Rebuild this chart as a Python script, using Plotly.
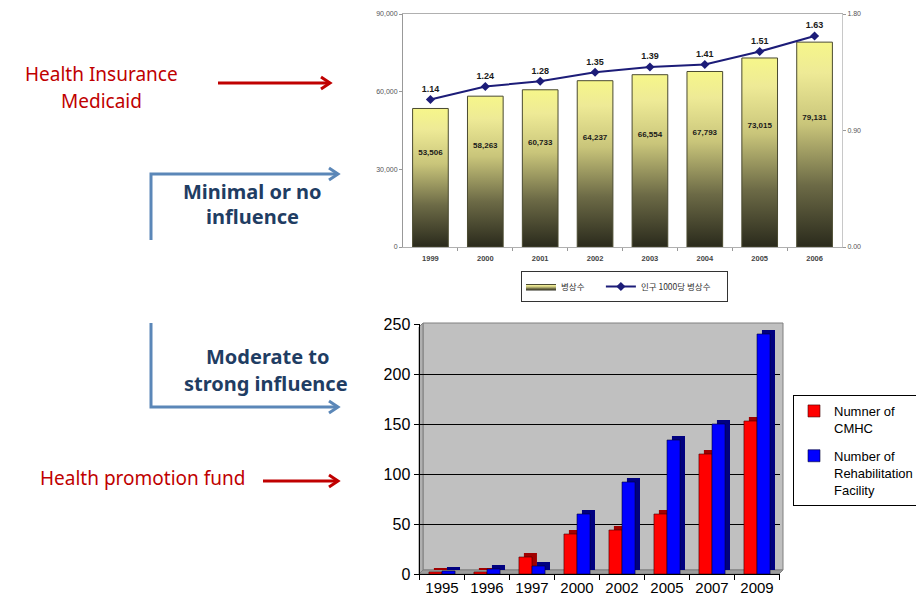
import plotly.graph_objects as go

# ---------------- data ----------------
years_top = ['1999', '2000', '2001', '2002', '2003', '2004', '2005', '2006']
beds = [53506, 58263, 60733, 64237, 66554, 67793, 73015, 79131]
beds_per_1000 = [1.14, 1.24, 1.28, 1.35, 1.39, 1.41, 1.51, 1.63]
bed_name = '병상수'
rate_name = '인구 1000당 병상수'

years_bottom = ['1995', '1996', '1997', '2000', '2002', '2005', '2007', '2009']
cmhc = [2, 2, 17, 40, 44, 60, 120, 153]
rehab = [3, 5, 8, 60, 92, 134, 150, 240]
cmhc_name = 'Numner of<br>CMHC'
rehab_name = 'Number of<br>Rehabilitation<br>Facility'

# The page body has an 8px margin, so the figure is sized to fit the
# 924x609 window and reference pixel positions are shifted accordingly.
OX, OY = 8, 8
W, H = 916, 593
def px(x):
    return (x - OX) / W
def py(y):
    return 1 - (y - OY) / H

ARIAL = 'Arial, Liberation Sans, sans-serif'
fig = go.Figure()

# ---------- top chart: gradient bars ----------
grad = [[0, '#2a2a1c'], [0.3, '#6c6a46'], [0.6, '#c9c57a'], [0.85, '#eeea96'], [1, '#f6f68a']]
hw = 0.325
for i, v in enumerate(beds):
    fig.add_trace(go.Scatter(
        x=[i - hw, i + hw, i + hw, i - hw, i - hw], y=[0, 0, v, v, 0],
        mode='lines', fill='toself',
        fillgradient=dict(type='vertical', colorscale=grad),
        line=dict(color='#4a4a30', width=1),
        name=bed_name + '\u00a0' * 6, legendgroup='beds', showlegend=(i == 0),
        legend='legend', hoverinfo='skip', xaxis='x', yaxis='y'))

fig.add_trace(go.Scatter(
    x=list(range(len(beds))), y=[v * 0.53 + 8000 for v in beds],
    mode='text', text=[f'{v:,}' for v in beds],
    textfont=dict(family=ARIAL, size=8, color='#1a1a1a', weight='bold'),
    showlegend=False, hoverinfo='skip', xaxis='x', yaxis='y'))

fig.add_trace(go.Scatter(
    x=list(range(len(beds_per_1000))), y=beds_per_1000,
    mode='lines+markers+text', text=[f'{v:.2f}' for v in beds_per_1000],
    textposition='top center',
    textfont=dict(family=ARIAL, size=9, color='#1a1a1a', weight='bold'),
    line=dict(color='#1c1c78', width=2),
    marker=dict(symbol='diamond', size=7, color='#1c1c78'),
    name=rate_name + '\u00a0' * 6, legend='legend', xaxis='x', yaxis='y3'))

# ---------- bottom chart: pseudo-3D bars ----------
bw = 0.29
dx = 0.11
dy = 4
fig.add_trace(go.Bar(x=years_bottom, y=cmhc, base=dy, offset=-bw + dx, width=bw,
                     marker=dict(color='#a00000', line=dict(width=0)),
                     showlegend=False, hoverinfo='skip', xaxis='x2', yaxis='y2'))
fig.add_trace(go.Bar(x=years_bottom, y=cmhc, offset=-bw, width=bw,
                     marker=dict(color='#ff0000', line=dict(color='#400000', width=0.6)),
                     name=cmhc_name, legend='legend2', legendgroup='cmhc',
                     xaxis='x2', yaxis='y2'))
fig.add_trace(go.Bar(x=years_bottom, y=rehab, base=dy, offset=dx, width=bw,
                     marker=dict(color='#000080', line=dict(width=0)),
                     showlegend=False, hoverinfo='skip', xaxis='x2', yaxis='y2'))
fig.add_trace(go.Bar(x=years_bottom, y=rehab, offset=0, width=bw,
                     marker=dict(color='#0000ff', line=dict(color='#000030', width=0.6)),
                     name=rehab_name, legend='legend2', legendgroup='rehab',
                     xaxis='x2', yaxis='y2'))

# ---------- decorations ----------
shapes = []
def path_px(points, closed=False):
    s = 'M ' + ' L '.join(f'{px(x):.5f},{py(y):.5f}' for x, y in points)
    return s + (' Z' if closed else '')

# bottom chart walls
shapes.append(dict(type='path', xref='paper', yref='paper', layer='below',
                   path=path_px([(423, 323), (783, 323), (783, 570), (423, 570)], True),
                   fillcolor='#c0c0c0', line=dict(color='#808080', width=1)))
shapes.append(dict(type='path', xref='paper', yref='paper', layer='below',
                   path=path_px([(419, 327), (423, 323), (423, 570), (419, 574)], True),
                   fillcolor='#b0b0b0', line=dict(color='#808080', width=1)))
shapes.append(dict(type='path', xref='paper', yref='paper', layer='below',
                   path=path_px([(419, 574), (423, 570), (783, 570), (779, 574)], True),
                   fillcolor='#9c9c9c', line=dict(color='#808080', width=1)))

red = '#c00000'
blue = '#5b87b8'
def arrow(points, color):
    shapes.append(dict(type='path', xref='paper', yref='paper',
                       path=path_px(points), line=dict(color=color, width=3)))
    x, y = points[-1]
    shapes.append(dict(type='path', xref='paper', yref='paper',
                       path=path_px([(x - 9, y - 6), (x, y), (x - 9, y + 6)]),
                       line=dict(color=color, width=3)))

arrow([(218, 83), (330, 83)], red)
arrow([(151, 240), (151, 174), (338, 174)], blue)
arrow([(151, 323), (151, 407), (338, 407)], blue)
arrow([(263, 481), (338, 481)], red)

annotations = []
def label(text, x, y, color, bold=False, size=19):
    annotations.append(dict(text=text, x=px(x), y=py(y), xref='paper', yref='paper',
                            showarrow=False, xanchor='center', yanchor='middle',
                            font=dict(family='Noto Sans, sans-serif', size=size, color=color,
                                      weight='bold' if bold else 'normal')))

navy = '#1f3d63'
label('Health Insurance', 101, 74, red)
label('Medicaid', 101, 101, red)
label('Minimal or no', 252, 191, navy, True, 20)
label('influence', 252, 216, navy, True, 20)
label('Moderate to', 267, 356, navy, True, 20)
label('strong influence', 266, 383, navy, True, 20)
label('Health promotion fund', 142, 478, red)

fig.update_layout(
    width=W, height=H, autosize=False,
    margin=dict(l=0, r=0, t=0, b=0, pad=0, autoexpand=False),
    paper_bgcolor='white', plot_bgcolor='rgba(0,0,0,0)',
    barmode='overlay', shapes=shapes, annotations=annotations,
    xaxis=dict(domain=[px(403), px(842)], anchor='y', range=[-0.5, 7.5],
               tickvals=list(range(len(years_top))),
               ticktext=[f'<b>{y}</b>' for y in years_top],
               ticks='', showline=True, linecolor='#b0b0b0', mirror=True,
               showgrid=False, zeroline=False, automargin=False, ticklabelstandoff=4,
               tickfont=dict(family=ARIAL, size=7.5, color='#444'),
               minor=dict(tickvals=[i + 0.5 for i in range(len(years_top) - 1)],
                          ticks='outside', ticklen=3, tickcolor='#999')),
    yaxis=dict(domain=[py(247), py(14)], anchor='x', range=[0, 90000],
               tickvals=[0, 30000, 60000, 90000], tickformat=',',
               ticks='outside', ticklen=3, tickcolor='#999', automargin=False,
               showline=True, linecolor='#999', showgrid=False, zeroline=False,
               tickfont=dict(family=ARIAL, size=7, color='#555')),
    yaxis3=dict(overlaying='y', side='right', anchor='x', range=[0, 1.8],
                tickvals=[0, 0.9, 1.8], tickformat='.2f', automargin=False,
                ticks='outside', ticklen=3, tickcolor='#999',
                showline=True, linecolor='#c8c8c8', showgrid=False, zeroline=False,
                tickfont=dict(family=ARIAL, size=7, color='#555')),
    xaxis2=dict(domain=[px(419.5), px(779.5)], anchor='y2', type='category',
                categoryorder='array', categoryarray=years_bottom, automargin=False,
                range=[-0.5, 7.5], tickson='boundaries', ticks='outside', ticklen=5,
                tickcolor='black', showline=True, linecolor='black', linewidth=1,
                showgrid=False, zeroline=False,
                tickfont=dict(family=ARIAL, size=15, color='black')),
    yaxis2=dict(domain=[py(574), py(324)], anchor='x2', range=[0, 250],
                tickvals=[0, 50, 100, 150, 200, 250], automargin=False,
                ticks='outside', ticklen=5, tickcolor='black',
                showline=True, linecolor='black', linewidth=1,
                showgrid=True, gridcolor='black', gridwidth=1, zeroline=False,
                tickfont=dict(family=ARIAL, size=16, color='black')),
    legend=dict(x=px(521), y=py(271), xanchor='left', yanchor='top',
                orientation='h', bordercolor='#333', borderwidth=1, bgcolor='white',
                font=dict(family='Noto Sans CJK KR, sans-serif', size=8.5, color='#333'),
                itemwidth=30),
    legend2=dict(x=px(919), y=py(395), xanchor='right', yanchor='top',
                 bordercolor='black', borderwidth=1, bgcolor='white',
                 font=dict(family=ARIAL, size=13, color='black'),
                 valign='top', traceorder='grouped', tracegroupgap=8, itemwidth=30),
)

fig.write_html('out.html')
